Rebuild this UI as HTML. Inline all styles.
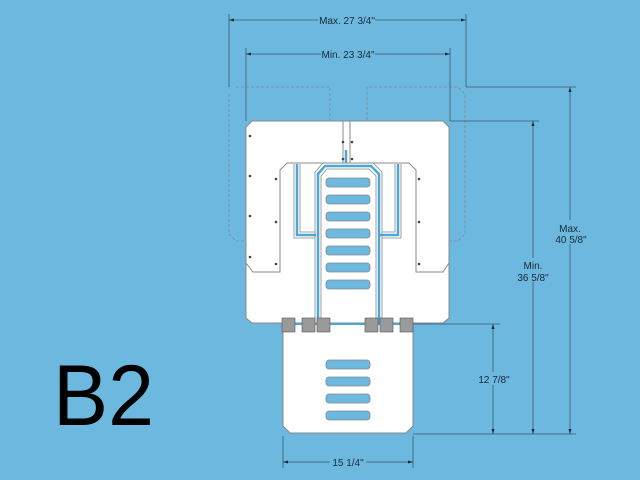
<!DOCTYPE html>
<html><head><style>
html,body{margin:0;padding:0;background:#6cb8de;}
svg{display:block;font-family:"Liberation Sans",sans-serif;}
</style></head><body>
<svg width="640" height="480" viewBox="0 0 640 480" xmlns="http://www.w3.org/2000/svg">
<rect width="640" height="480" fill="#6cb8de"/>
<!-- dashed max outline -->
<g fill="none" stroke="#7c8a94" stroke-width="0.8" stroke-dasharray="3,2">
<path d="M236,87 L330,87 L330,125 M229,94 L229,234 L236,241 L246,241"/>
<path d="M367,125 L367,87 L458,87 L465,94 L465,234 L458,241 L449,241"/>
<path d="M296,132 L265,132 L259,138 L259,236 M400,132 L431,132 L437,138 L437,236"/>
</g>
<!-- main plate -->
<path d="M252,121 L443,121 L449,127 L449,318 L443,323 L252,323 L246,318 L246,127 Z" fill="#fff" stroke="#888" stroke-width="1"/>
<g fill="none" stroke="#888" stroke-width="1">
<path d="M246,263 L253,272 L280,272 L280,170 L287,163 L409,163 L416,170 L416,272 L443,272 L449,263"/>
<path d="M343,121 L343,163 M350,121 L350,163"/>
</g>
<!-- blue channels -->
<g fill="none" stroke="#4aa8d8" stroke-width="2.5">
<path d="M297,164 L297,235 L316,235"/>
<path d="M398,164 L398,235 L380,235"/>
<path d="M318,325 L318,174 L325,166 L371,166 L379,174 L379,325"/>
<path d="M346,150 L346,163"/>
</g>
<g fill="none" stroke="#888" stroke-width="0.8">
<path d="M294,164 L294,238 L315,238 M300,164 L300,232 L315,232"/>
<path d="M401,164 L401,238 L382,238 M395,164 L395,232 L382,232"/>
<path d="M315,325 L315,172 L323,163 L373,163 L382,172 L382,325 M321,325 L321,176 L327,169 L369,169 L376,176 L376,325"/>
</g>
<!-- slots -->
<g fill="#6cb8de" stroke="#888" stroke-width="0.8">
<rect x="326" y="178" width="44" height="9" rx="3"/>
<rect x="326" y="195" width="44" height="9" rx="3"/>
<rect x="326" y="212" width="44" height="9" rx="3"/>
<rect x="326" y="229" width="44" height="9" rx="3"/>
<rect x="326" y="246" width="44" height="9" rx="3"/>
<rect x="326" y="263" width="44" height="9" rx="3"/>
<rect x="326" y="280" width="44" height="9" rx="3"/>
</g>
<!-- holes -->
<g fill="#444">
<circle cx="250" cy="136" r="1.3"/><circle cx="250" cy="176" r="1.3"/><circle cx="250" cy="216" r="1.3"/><circle cx="250" cy="257" r="1.3"/>
<circle cx="276" cy="179" r="1.3"/><circle cx="276" cy="222" r="1.3"/><circle cx="276" cy="264" r="1.3"/>
<circle cx="419" cy="179" r="1.3"/><circle cx="419" cy="222" r="1.3"/><circle cx="419" cy="264" r="1.3"/>
<circle cx="343" cy="142" r="1.3"/><circle cx="352" cy="142" r="1.3"/><circle cx="343" cy="159" r="1.3"/><circle cx="352" cy="159" r="1.3"/>
</g>
<!-- bottom plate -->
<path d="M283,323 L413,323 L413,426 L406,433 L290,433 L283,426 Z" fill="#fff" stroke="#888" stroke-width="1"/>
<line x1="283" y1="324" x2="413" y2="324" stroke="#4aa8d8" stroke-width="2"/>
<g fill="#6cb8de" stroke="#888" stroke-width="0.8">
<rect x="326" y="360" width="44" height="9" rx="3"/>
<rect x="326" y="377" width="44" height="9" rx="3"/>
<rect x="326" y="394" width="44" height="9" rx="3"/>
<rect x="326" y="411" width="44" height="9" rx="3"/>
</g>
<!-- hinges -->
<g fill="#9a9a9a" stroke="#555" stroke-width="0.6">
<rect x="282" y="318" width="13" height="14"/><rect x="302" y="318" width="13" height="14"/><rect x="317" y="318" width="13" height="14"/>
<rect x="365" y="318" width="13" height="14"/><rect x="380" y="318" width="13" height="14"/><rect x="400" y="318" width="13" height="14"/>
</g>
<!-- dimension lines -->
<g stroke="#3d5a6e" stroke-width="0.8" fill="none">
<line x1="229" y1="14" x2="229" y2="87"/><line x1="466" y1="14" x2="466" y2="87"/>
<line x1="229" y1="20" x2="318" y2="20"/><line x1="375" y1="20" x2="466" y2="20"/>
<line x1="246" y1="48" x2="246" y2="121"/><line x1="450" y1="48" x2="450" y2="121"/>
<line x1="246" y1="54" x2="321" y2="54"/><line x1="375" y1="54" x2="450" y2="54"/>
<line x1="466" y1="87" x2="576" y2="87"/><line x1="450" y1="121" x2="539" y2="121"/>
<line x1="413" y1="324" x2="500" y2="324"/><line x1="413" y1="434" x2="576" y2="434"/>
<line x1="570" y1="87" x2="570" y2="434"/><line x1="533" y1="121" x2="533" y2="434"/><line x1="493" y1="324" x2="493" y2="434"/>
<line x1="283" y1="436" x2="283" y2="468"/><line x1="413" y1="436" x2="413" y2="468"/>
<line x1="283" y1="462" x2="330" y2="462"/><line x1="366" y1="462" x2="413" y2="462"/>
</g>
<g fill="#1a2a35">
<path d="M229,20 l5,-1.5 v3z"/><path d="M466,20 l-5,-1.5 v3z"/>
<path d="M246,54 l5,-1.5 v3z"/><path d="M450,54 l-5,-1.5 v3z"/>
<path d="M570,87 l-1.5,5 h3z"/><path d="M570,434 l-1.5,-5 h3z"/>
<path d="M533,121 l-1.5,5 h3z"/><path d="M533,434 l-1.5,-5 h3z"/>
<path d="M493,324 l-1.5,5 h3z"/><path d="M493,434 l-1.5,-5 h3z"/>
<path d="M283,462 l5,-1.5 v3z"/><path d="M413,462 l-5,-1.5 v3z"/>
</g>
<g fill="#1a2a35" font-size="10" text-anchor="middle">
<rect x="318" y="13" width="57" height="14" fill="#6cb8de"/>
<text x="347" y="24">Max. 27 3/4"</text>
<text x="348" y="58">Min. 23 3/4"</text>
<rect x="560" y="220" width="26" height="24" fill="#6cb8de"/>
<text x="570" y="232">Max.</text><text x="571" y="243">40 5/8"</text>
<rect x="520" y="258" width="26" height="24" fill="#6cb8de"/>
<text x="533" y="269">Min.</text><text x="533" y="281">36 5/8"</text>
<rect x="478" y="372" width="32" height="13" fill="#6cb8de"/>
<text x="494" y="383">12 7/8"</text>
<text x="348" y="466">15 1/4"</text>
</g>
<text x="53" y="425" font-size="86" fill="#000" textLength="101" lengthAdjust="spacingAndGlyphs">B2</text>
</svg>
</body></html>
